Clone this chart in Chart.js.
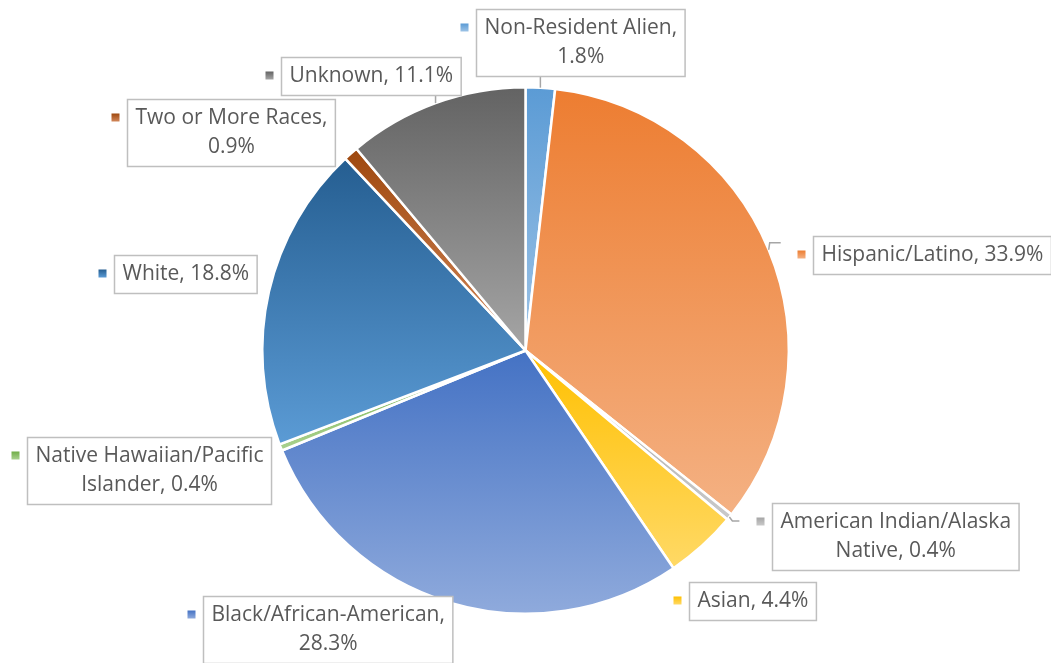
<!DOCTYPE html>
<html>
<head>
<meta charset="utf-8">
<script src="https://cdn.jsdelivr.net/npm/chart.js@4.4.1/dist/chart.umd.min.js"></script>
<style>
  html, body { margin: 0; padding: 0; background: #fff; }
  #wrap { width: 1051px; height: 663px; }
</style>
</head>
<body>
<div id="wrap"><canvas id="pieChart" width="1051" height="663"></canvas></div>
<script>
// --- data ---
const categories = [
  "Non-Resident Alien",
  "Hispanic/Latino",
  "American Indian/Alaska Native",
  "Asian",
  "Black/African-American",
  "Native Hawaiian/Pacific Islander",
  "White",
  "Two or More Races",
  "Unknown"
];
const values = [1.8, 33.9, 0.4, 4.4, 28.3, 0.4, 18.8, 0.9, 11.1];

// --- styles (office palette, top -> bottom gradient) ---
const topColors = ["#5B9BD5", "#ED7D31", "#A5A5A5", "#FFC000", "#4472C4", "#70AD47", "#255E91", "#9E480E", "#636363"];
const bottomColors = ["#9DC3E6", "#F4B183", "#C9C9C9", "#FFD966", "#8FAADC", "#A9D18E", "#5B9BD5", "#D2875A", "#A5A5A5"];

// label layout: box centre, words on first line (0 = one line), leader line offsets from arc edge
const boxCenters = [[580, 42], [932, 255], [895, 536], [752, 601], [328, 629], [149, 470], [185, 274], [231, 132], [371, 76]];
const wrapAt = [2, 0, 2, 0, 1, 2, 0, 4, 0];
const leaders = [
  "toBox", [[1, -7], [12, -7]], [[3, 4], [10, 4]], null, null, null, null, null, "toBox"
];

const BORDER = 2.5;
const FONT = '21px "Open Sans", "Liberation Sans", sans-serif';
const TEXT_COLOR = "#595959";

function pieGeom(chart) {
  const a = chart.chartArea;
  const cx = (a.left + a.right) / 2, cy = (a.top + a.bottom) / 2;
  const r = (Math.min(a.right - a.left, a.bottom - a.top) - BORDER) / 2;
  return { cx, cy, r };
}

function sliceAngles(i) {
  const total = values.reduce((s, v) => s + v, 0);
  let cum = 0;
  for (let k = 0; k < i; k++) cum += values[k];
  const start = -Math.PI / 2 + 2 * Math.PI * cum / total;
  const end = start + 2 * Math.PI * values[i] / total;
  return { start, end };
}

function sliceFill(ctx) {
  const chart = ctx.chart;
  const i = ctx.dataIndex;
  if (!chart.chartArea) return topColors[i];
  const { cx, cy, r } = pieGeom(chart);
  const { start, end } = sliceAngles(i);
  let ys = [cy, cy + r * Math.sin(start), cy + r * Math.sin(end)];
  // top / bottom extremes inside the arc
  [-Math.PI / 2, Math.PI / 2, 3 * Math.PI / 2].forEach(t => { if (t > start && t < end) ys.push(cy + r * Math.sin(t)); });
  const y0 = Math.min(...ys), y1 = Math.max(...ys);
  const g = chart.ctx.createLinearGradient(0, y0, 0, y1);
  g.addColorStop(0, topColors[i]);
  g.addColorStop(1, bottomColors[i]);
  return g;
}

function labelLines(i) {
  const words = `${categories[i]}, ${values[i]}%`.split(" ");
  if (!wrapAt[i]) return [words.join(" ")];
  return [words.slice(0, wrapAt[i]).join(" "), words.slice(wrapAt[i]).join(" ")];
}

const labelBoxes = {
  id: "labelBoxes",
  afterDatasetsDraw(chart) {
    const c = chart.ctx;
    const { cx, cy, r } = pieGeom(chart);
    c.save();
    c.font = FONT;
    values.forEach((v, i) => {
      const lines = labelLines(i);
      const w = Math.max(...lines.map(l => c.measureText(l).width)) + 16;
      const h = 38 + (lines.length - 1) * 29;
      const [bx, by] = boxCenters[i];
      const left = Math.round(bx - w / 2) + 0.5, top = Math.round(by - h / 2) + 0.5;

      // leader line
      const { start, end } = sliceAngles(i);
      const mid = (start + end) / 2;
      const ex = cx + r * Math.cos(mid), ey = cy + r * Math.sin(mid);
      const ld = leaders[i];
      if (ld) {
        c.strokeStyle = "#A6A6A6";
        c.lineWidth = 1.5;
        c.beginPath();
        c.moveTo(ex, ey);
        if (ld === "toBox") c.lineTo(ex, top + h);
        else ld.forEach(p => c.lineTo(ex + p[0], ey + p[1]));
        c.stroke();
      }

      // box
      c.fillStyle = "#fff";
      c.fillRect(left, top, w, h);
      c.strokeStyle = "#BFBFBF";
      c.lineWidth = 1.5;
      c.strokeRect(left, top, w, h);

      // marker
      const my = top + 18;
      const mg = c.createLinearGradient(0, my - 4, 0, my + 4);
      mg.addColorStop(0, topColors[i]);
      mg.addColorStop(1, bottomColors[i]);
      c.fillStyle = mg;
      c.fillRect(left - 16, my - 4, 8, 8);

      // text
      c.fillStyle = TEXT_COLOR;
      c.textAlign = "center";
      c.textBaseline = "middle";
      lines.forEach((l, k) => c.fillText(l, left + w / 2, top + 19 + k * 29));
    });
    c.restore();
  }
};

const chart = new Chart(document.getElementById("pieChart"), {
  type: "pie",
  data: {
    labels: categories,
    datasets: [{
      data: values,
      backgroundColor: sliceFill,
      borderColor: "#ffffff",
      borderWidth: BORDER
    }]
  },
  options: {
    responsive: false,
    animation: false,
    layout: { padding: { top: 86, bottom: 48, left: 0, right: 0 } },
    plugins: {
      legend: { display: false },
      tooltip: { enabled: false }
    }
  },
  plugins: [labelBoxes]
});
</script>
</body>
</html>
